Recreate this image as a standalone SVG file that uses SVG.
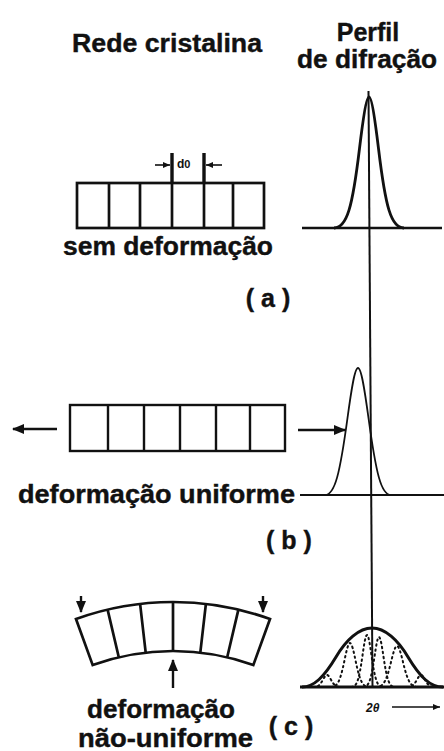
<svg xmlns="http://www.w3.org/2000/svg" width="444" height="751" viewBox="0 0 444 751">
<defs>
<style>
.t{font-family:"Liberation Sans",Arial,sans-serif;font-weight:bold;fill:#111;font-size:25px;stroke:#111;stroke-width:0.4}
.ln{fill:none;stroke:#111;stroke-width:2.7}
.thin{fill:none;stroke:#111;stroke-width:1.8}
.dot{fill:none;stroke:#111;stroke-width:2;stroke-dasharray:1.5 3.5;stroke-linecap:round}
.arr{fill:none;stroke:#111;stroke-width:2.4;marker-end:url(#ah)}
.arrs{fill:none;stroke:#111;stroke-width:1.6;marker-end:url(#ahs)}
</style>
<marker id="ah" markerWidth="12" markerHeight="10" refX="11" refY="5" orient="auto" markerUnits="userSpaceOnUse"><path d="M0,0 L12,5 L0,10 Z" fill="#111"/></marker>
<marker id="ahs" markerWidth="7" markerHeight="6" refX="7" refY="3" orient="auto" markerUnits="userSpaceOnUse"><path d="M0,0 L7,3 L0,6 Z" fill="#111"/></marker>
</defs>
<rect width="444" height="751" fill="#fff"/>

<g id="titles">
<text class="t" x="72" y="52" textLength="190" lengthAdjust="spacingAndGlyphs">Rede cristalina</text>
<text class="t" x="368" y="41" text-anchor="middle">Perfil</text>
<text class="t" x="297" y="68" textLength="140" lengthAdjust="spacingAndGlyphs">de difração</text>
</g>

<g id="axis">
<line class="thin" x1="368.5" y1="91" x2="372.5" y2="687" style="stroke-width:2"/>
<line class="ln" x1="302" y1="228" x2="442" y2="228"/>
<line class="thin" x1="300" y1="495" x2="444" y2="495" style="stroke-width:2"/>
<line class="ln" x1="300" y1="687" x2="444" y2="687" style="stroke-width:3"/>
</g>

<g id="lattice-a">
<rect class="ln" x="77" y="183" width="187" height="45"/>
<path class="ln" d="M109,183V228M140,183V228M172,183V228M204,183V228M233,183V228"/>
<path class="ln" d="M172,153V183M204,153V183" style="stroke-width:3.4"/>
<text x="177" y="168" font-family="Liberation Sans,Arial,sans-serif" font-size="12" font-weight="bold" fill="#111">d<tspan font-size="11">0</tspan></text>
</g>

<g id="peak-a">
<path class="ln" d="M334,228 C347,228 352.5,207 359.5,148.5 C362.7,122.1 366.3,97 369,97 C371.7,97 375.3,122.1 378.5,148.5 C385.5,207 391,228 404,228" style="stroke-width:2.8"/>
</g>

<g id="label-a">
<text class="t" x="63" y="255" textLength="210" lengthAdjust="spacingAndGlyphs">sem deformação</text>
<text class="t" x="268" y="307" text-anchor="middle" font-size="24">( a )</text>
</g>

<g id="lattice-b">
<rect class="thin" x="70" y="405" width="215" height="46" style="stroke-width:2.4"/>
<path class="thin" d="M108,405V451M144,405V451M180,405V451M216,405V451M250,405V451" style="stroke-width:2.4"/>
</g>

<g id="peak-b">
<path class="thin" d="M325,495 C335,495 340,473 347.5,418 C351,392.3 354.5,368 358,368 C361.5,368 365,392.3 368.5,418 C376,473 381,495 391,495"/>
</g>

<g id="label-b">
<text class="t" x="18" y="503" textLength="277" lengthAdjust="spacingAndGlyphs">deformação uniforme</text>
<text class="t" x="289" y="549" text-anchor="middle" font-size="24">( b )</text>
</g>

<g id="lattice-c">
<path class="ln" d="M76,619 A285,285 0 0 1 270,619 L253.3,665.1 A236,236 0 0 0 92.7,665.1 Z"/>
<path class="ln" d="M107.6,609.6L118.8,657.3M140.1,603.9L145.7,652.6M173,602V651M205.9,603.9L200.3,652.6M238.4,609.6L227.2,657.3"/>
</g>

<g id="peak-c">
<path class="ln" d="M302,687 C314,687 324,677 336,657 C346,640 359,628 372,628 C385,628 398,640 408,657 C420,677 430,687 443,687" style="stroke-width:3"/>
<path class="dot" d="M313,687 C317.8,687 319.8,685.5 323,679.7 C324.3,677.3 325.7,675 327,675 C328.3,675 329.7,677.3 331,679.7 C334.2,685.5 336.2,687 341,687"/>
<path class="dot" d="M330.8,687 C337.4,687 340.1,681.7 344.5,660.3 C346.3,651.4 348.2,643 350,643 C351.8,643 353.7,651.4 355.5,660.3 C359.9,681.7 362.7,687 369.3,687"/>
<path class="dot" d="M351.3,687 C356.7,687 358.9,680.7 362.5,655.5 C364,644.9 365.5,635 367,635 C368.5,635 370,644.9 371.5,655.5 C375.1,680.7 377.4,687 382.8,687"/>
<path class="dot" d="M363.3,687 C368.7,687 370.9,680.9 374.5,656.7 C376,646.6 377.5,637 379,637 C380.5,637 382,646.6 383.5,656.7 C387.1,680.9 389.4,687 394.8,687"/>
<path class="dot" d="M376,687 C383.2,687 386.2,682 391,662.1 C393,653.8 395,646 397,646 C399,646 401,653.8 403,662.1 C407.8,682 410.8,687 418,687"/>
<path class="dot" d="M407,687 C411.8,687 413.8,685.5 417,679.7 C418.3,677.3 419.7,675 421,675 C422.3,675 423.7,677.3 425,679.7 C428.2,685.5 430.2,687 435,687"/>
<text x="366" y="712" font-family="Liberation Sans,Arial,sans-serif" font-size="12" font-weight="bold" font-style="italic" fill="#111">2θ</text>
</g>

<g id="label-c">
<text class="t" x="87" y="718" textLength="148" lengthAdjust="spacingAndGlyphs">deformação</text>
<text class="t" x="78" y="747" textLength="175" lengthAdjust="spacingAndGlyphs">não-uniforme</text>
<text class="t" x="291" y="735" text-anchor="middle" font-size="24">( c )</text>
</g>

<g id="connectors">
<line class="arrs" x1="155" y1="165" x2="170" y2="165"/>
<line class="arrs" x1="222" y1="165" x2="206" y2="165"/>
<line class="arr" x1="57" y1="429" x2="13" y2="429"/>
<line class="arr" x1="298" y1="430" x2="345" y2="430"/>
<line class="arr" x1="81" y1="596" x2="81" y2="612"/>
<line class="arr" x1="263" y1="596" x2="263" y2="612"/>
<line class="arr" x1="173" y1="688" x2="173" y2="660"/>
<line class="arrs" x1="392" y1="707" x2="440" y2="707"/>
</g>
</svg>
